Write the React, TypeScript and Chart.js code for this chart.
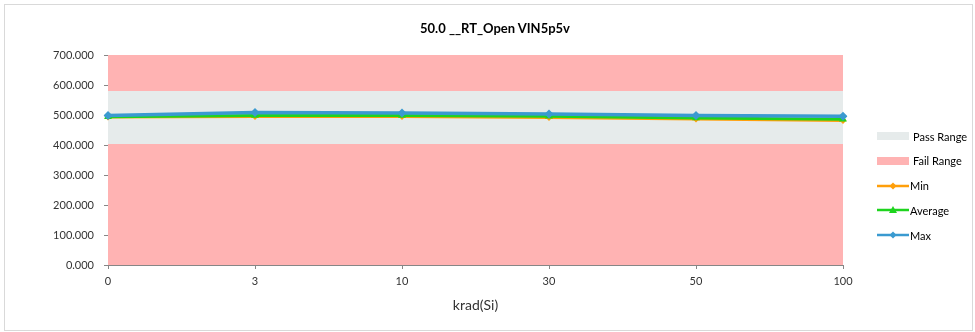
import React, { useEffect, useRef } from "react";
import { Chart, registerables } from "chart.js";

Chart.register(...registerables);

const titleText = "50.0 __RT_Open VIN5p5v";
const xAxisTitle = "krad(Si)";
const categories = ["0", "3", "10", "30", "50", "100"];
const minValues = [493, 495, 495, 492, 487, 482];
const avgValues = [494, 498, 498, 496, 490, 486];
const maxValues = [498, 508, 507, 503, 498, 496];
const passRange = [403, 580];
const failRangeTop = 700;
const yTicks = { min: 0, max: 700, step: 100 };

const FONT = "Lato, 'Liberation Sans', Arial, sans-serif";
const PINK = "#FFB3B3";
const GRAY = "#E6EBEB";
const ORANGE = "#FF9F0A";
const GREEN = "#1ED41E";
const BLUE = "#3A9AD0";
const AXIS = "#868686";
const TEXT = "#333333";

const legendItems = [
  { label: "Pass Range", kind: "box", color: GRAY },
  { label: "Fail Range", kind: "box", color: PINK },
  { label: "Min", kind: "line", color: ORANGE, marker: "diamond" },
  { label: "Average", kind: "line", color: GREEN, marker: "triangle" },
  { label: "Max", kind: "line", color: BLUE, marker: "diamond" },
];

function LegendSymbol({ item }: { item: any }) {
  if (item.kind === "box") {
    return (
      <svg width="32" height="10" style={{ display: "block" }}>
        <rect x="0" y="1" width="32" height="8" fill={item.color} />
      </svg>
    );
  }
  return (
    <svg width="32" height="10" style={{ display: "block" }}>
      <line x1="0" y1="5" x2="32" y2="5" stroke={item.color} strokeWidth="2.5" />
      {item.marker === "diamond" ? (
        <polygon points="16,1.5 19.5,5 16,8.5 12.5,5" fill={item.color} />
      ) : (
        <polygon points="16,1 20,8 12,8" fill={item.color} />
      )}
    </svg>
  );
}

export default function App() {
  const canvasRef = useRef<HTMLCanvasElement | null>(null);

  useEffect(() => {
    const canvas = canvasRef.current;
    if (!canvas) return;
    const n = categories.length;
    const chart = new Chart(canvas, {
      type: "line",
      data: {
        labels: categories,
        datasets: [
          {
            label: "Max",
            data: maxValues,
            borderColor: BLUE,
            backgroundColor: BLUE,
            borderWidth: 3.5,
            pointStyle: "rectRot",
            pointRadius: 4.5,
            pointBorderWidth: 0,
            order: 0,
            fill: false,
          },
          {
            label: "Average",
            data: avgValues,
            borderColor: GREEN,
            backgroundColor: GREEN,
            borderWidth: 3,
            pointStyle: "triangle",
            pointRadius: 4.5,
            pointBorderWidth: 0,
            order: 1,
            fill: false,
          },
          {
            label: "Min",
            data: minValues,
            borderColor: ORANGE,
            backgroundColor: ORANGE,
            borderWidth: 3,
            pointStyle: "rectRot",
            pointRadius: 3.5,
            pointBorderWidth: 0,
            order: 2,
            fill: false,
          },
          {
            label: "Fail Range Low",
            data: new Array(n).fill(passRange[0]),
            borderWidth: 0,
            borderColor: "rgba(0,0,0,0)",
            backgroundColor: PINK,
            pointRadius: 0,
            fill: "origin",
            order: 30,
          },
          {
            label: "Pass Range",
            data: new Array(n).fill(passRange[1]),
            borderWidth: 0,
            borderColor: "rgba(0,0,0,0)",
            backgroundColor: GRAY,
            pointRadius: 0,
            fill: "-1",
            order: 20,
          },
          {
            label: "Fail Range High",
            data: new Array(n).fill(failRangeTop),
            borderWidth: 0,
            borderColor: "rgba(0,0,0,0)",
            backgroundColor: PINK,
            pointRadius: 0,
            fill: "-1",
            order: 10,
          },
        ],
      },
      options: {
        animation: false,
        responsive: false,
        maintainAspectRatio: false,
        layout: { padding: { left: 4, right: 132, top: 55, bottom: 0 } },
        plugins: {
          legend: { display: false },
          tooltip: { enabled: false },
          title: { display: false },
        },
        elements: { line: { tension: 0 } },
        scales: {
          x: {
            type: "category",
            offset: false,
            afterFit: (s: any) => {
              s.height = 67;
            },
            grid: {
              display: true,
              drawOnChartArea: false,
              drawTicks: true,
              tickLength: 4,
              color: AXIS,
            },
            border: { display: true, color: AXIS, width: 1 },
            ticks: {
              color: TEXT,
              font: { family: FONT, size: 11 },
              padding: 6,
              maxRotation: 0,
              autoSkip: false,
            },
            title: {
              display: true,
              text: xAxisTitle,
              color: TEXT,
              font: { family: FONT, size: 14 },
              padding: { top: 0, bottom: 18 },
            },
          },
          y: {
            min: yTicks.min,
            max: yTicks.max,
            afterFit: (s: any) => {
              s.width = 104;
            },
            grid: {
              display: true,
              drawOnChartArea: false,
              drawTicks: true,
              tickLength: 4,
              color: AXIS,
            },
            border: { display: true, color: AXIS, width: 1 },
            ticks: {
              stepSize: yTicks.step,
              color: TEXT,
              font: { family: FONT, size: 11 },
              padding: 10,
              callback: (v: any) => Number(v).toFixed(3),
            },
          },
        },
      },
    } as any);
    return () => chart.destroy();
  }, []);

  return (
    <div
      style={{
        position: "absolute",
        left: 0,
        top: 0,
        width: 975,
        height: 332,
        background: "#fff",
        fontFamily: FONT,
      }}
    >
      <div
        style={{
          position: "absolute",
          left: 4,
          top: 4,
          width: 967,
          height: 325,
          border: "1px solid #D9D9D9",
        }}
      />
      <canvas
        ref={canvasRef}
        width={975}
        height={332}
        style={{ position: "absolute", left: 0, top: 0, width: 975, height: 332 }}
      />
      <div
        style={{
          position: "absolute",
          left: 295,
          width: 400,
          top: 20,
          textAlign: "center",
          fontWeight: "bold",
          fontSize: 13,
          color: "#000",
          lineHeight: "16px",
        }}
      >
        {titleText}
      </div>
      {legendItems.map((item, i) => (
        <div
          key={item.label}
          style={{
            position: "absolute",
            left: 877,
            top: 136 + i * 24.8 - 8,
            height: 16,
            display: "flex",
            alignItems: "center",
            fontSize: 11,
            color: "#000",
            whiteSpace: "nowrap",
          }}
        >
          <LegendSymbol item={item} />
          <span style={{ marginLeft: item.kind === "box" ? 4 : 1 }}>{item.label}</span>
        </div>
      ))}
    </div>
  );
}
